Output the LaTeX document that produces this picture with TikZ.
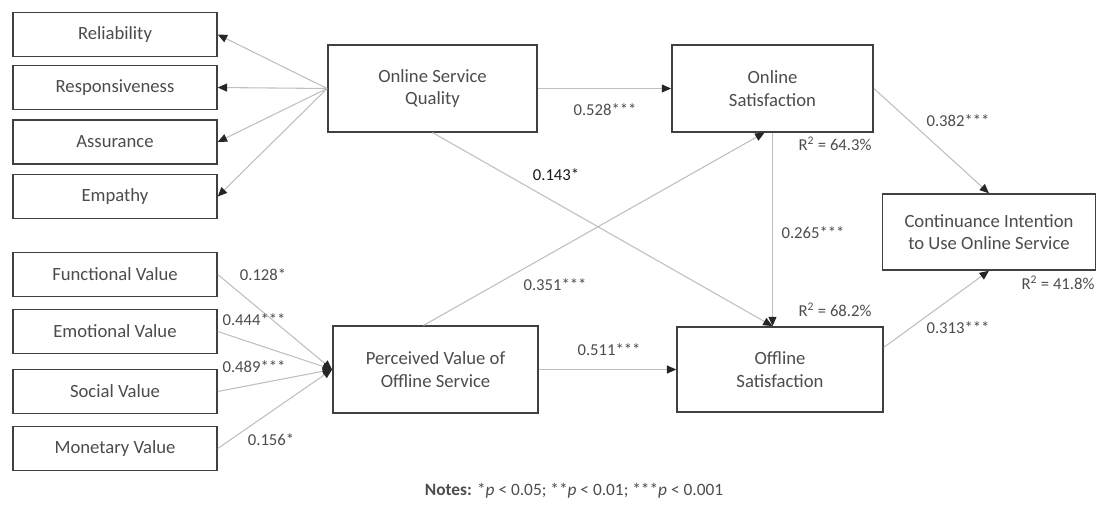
\documentclass[tikz,border=0pt]{standalone}
\usepackage{fontspec}
\setmainfont{Carlito}
\usetikzlibrary{arrows.meta,positioning}

\tikzset{
  box/.style={draw=black!75, line width=1.1pt, fill=white, text=black!70,
    font=\fontsize{14}{17}\selectfont, align=center, inner sep=0pt},
  link/.style={draw=black!25, line width=0.8pt,
    -{Triangle[length=7pt,width=6pt,color=black!85,fill=black!85]}},
  coef/.style={text=black!70, font=\fontsize{12.5}{14}\selectfont, inner sep=1pt},
}

\begin{document}
\begin{tikzpicture}[x=0.75pt, y=-0.75pt]
\useasboundingbox (0,0) rectangle (1099,507);
% dimensions of online service quality
\foreach \name/\txt/\y in {rel/Reliability/34.5, resp/Responsiveness/87.5,
    ass/Assurance/142, emp/Empathy/196.5}{
  \node[box, minimum width=153pt, minimum height=33pt] (\name) at (115,\y) {\txt};
}
% dimensions of perceived value
\foreach \name/\txt/\y in {fun/Functional Value/274.5, emo/Emotional Value/331.5,
    soc/Social Value/391.5, mon/Monetary Value/448.5}{
  \node[box, minimum width=153pt, minimum height=33pt] (\name) at (115,\y) {\txt};
}
\node[box, minimum width=157pt, minimum height=65pt] (osq) at (432.5,88.5) {Online Service\\Quality};
\node[box, minimum width=151pt, minimum height=65pt] (onsat) at (772.5,88.5) {Online\\Satisfaction};
\node[box, minimum width=154pt, minimum height=65pt] (pvos) at (435.5,369.5) {Perceived Value of\\Offline Service};
\node[box, minimum width=154.5pt, minimum height=64pt] (offsat) at (780,369.5) {Offline\\Satisfaction};
\node[box, minimum width=160pt, minimum height=57pt] (cont) at (989,232) {Continuance Intention\\to Use Online Service};

\foreach \d in {rel,resp,ass,emp}{
  \draw[link] (osq.west) -- (\d.east);
}
\foreach \v in {fun,emo,soc,mon}{
  \draw[link] (\v.east) -- (pvos.west);
}
\draw[link] (osq.east) -- (onsat.west);
\draw[link] (osq.south) -- (onsat.south |- offsat.north);
\draw[link] ([xshift=-9pt]pvos.north) -- ([xshift=-6pt]onsat.south);
\draw[link] (pvos.east) -- (offsat.west);
\draw[link] (onsat.south) -- (onsat.south |- offsat.north);
\draw[link] (onsat.east) -- (cont.north);
\draw[link] (offsat.12) -- (cont.south);

% path coefficients
\node[coef] (c1) at (263,275) {0.128*};
\node[coef] (c2) at (254,320) {0.444***};
\node[coef] (c3) at (254,367) {0.489***};
\node[coef] (c4) at (271,440) {0.156*};
\node[coef] (c5) at (605,110) {0.528***};
\node[coef, text=black!90] (c6) at (556,175) {0.143*};
\node[coef] (c7) at (555,285) {0.351***};
\node[coef] (c8) at (609,350) {0.511***};
\node[coef] (c9) at (958,121) {0.382***};
\node[coef] (c10) at (813,233) {0.265***};
\node[coef] (c11) at (958,328) {0.313***};
\node[coef] (r1) at (835,144) {R\textsuperscript{2} = 64.3\%};
\node[coef] (r2) at (835,310) {R\textsuperscript{2} = 68.2\%};
\node[coef] (r3) at (1058,283) {R\textsuperscript{2} = 41.8\%};

\node[coef, font=\fontsize{13}{15}\selectfont] (notes) at (574,491)
  {\textbf{Notes:} *\textit{p} < 0.05; **\textit{p} < 0.01; ***\textit{p} < 0.001};
\end{tikzpicture}
\end{document}
